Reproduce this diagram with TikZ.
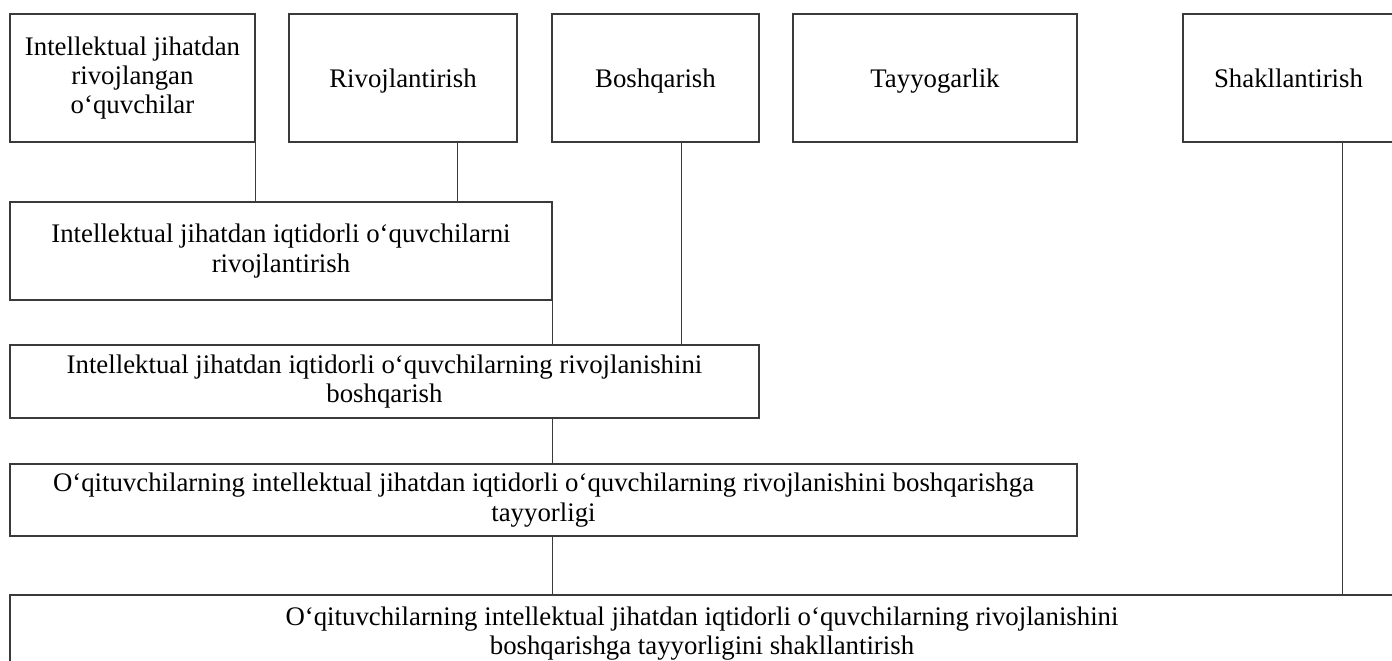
\documentclass[tikz,border=0pt]{standalone}
\usepackage{fontspec}
\setmainfont{Liberation Serif}
\usetikzlibrary{positioning, calc}
\definecolor{cLine}{HTML}{3A3A3A}
\tikzset{
  box/.style={
    rectangle, draw=cLine, line width=0.6pt, align=center, inner sep=2pt,
    text=black, font=\fontsize{13.4}{14.6}\selectfont
  },
  topbox/.style={box, minimum height=64pt},
  wordbox/.style={topbox, text height=12pt, text depth=3pt},
  link/.style={draw=cLine, line width=0.5pt},
}

\begin{document}
\begin{tikzpicture}[x=0.5pt, y=-0.5pt]
  \useasboundingbox (0,0) rectangle (1392,660);
  \clip (0,0) rectangle (1392,660);

  % top row of notions
  \node[topbox, minimum width=122.5pt] (pupils) at (132.5,78)
    {Intellektual jihatdan\\rivojlangan\\o‘quvchilar};
  \node[wordbox, minimum width=114pt] (develop) at (403,78) {Rivojlantirish};
  \node[wordbox, minimum width=103.5pt] (manage) at (655.5,78) {Boshqarish};
  \node[wordbox, minimum width=142pt] (ready) at (935,78) {Tayyogarlik};
  \node[wordbox, minimum width=105.5pt] (form) at (1288.5,78) {Shakllantirish};

  % chain of combined notions
  \node[box, minimum width=271pt, minimum height=49pt] (devpupils) at (281,251)
    {Intellektual jihatdan iqtidorli o‘quvchilarni\\rivojlantirish};
  \node[box, minimum width=374.5pt, minimum height=36.5pt] (mandev) at (384.5,381.5)
    {Intellektual jihatdan iqtidorli o‘quvchilarning rivojlanishini\\boshqarish};
  \node[box, minimum width=533.5pt, minimum height=36pt] (teachready) at (543.5,500)
    {O‘qituvchilarning intellektual jihatdan iqtidorli o‘quvchilarning rivojlanishini boshqarishga\\tayyorligi};
  \node[box, minimum width=692pt, minimum height=38.5pt] (formready) at (702,633.5)
    {O‘qituvchilarning intellektual jihatdan iqtidorli o‘quvchilarning rivojlanishini\\boshqarishga tayyorligini shakllantirish};

  \draw[link] (pupils.south east) -- (pupils.south east |- devpupils.north);
  \draw[link] ([xshift=-30pt]develop.south east) -- ([xshift=-30pt]develop.south east |- devpupils.north);
  \draw[link] ([xshift=12.75pt]manage.south) -- ([xshift=12.75pt]manage.south |- mandev.north);
  \draw[link] (devpupils.south east) -- (devpupils.south east |- mandev.north);
  \draw[link] (devpupils.south east |- mandev.south) -- (devpupils.south east |- teachready.north);
  \draw[link] (devpupils.south east |- teachready.south) -- (devpupils.south east |- formready.north);
  \draw[link] ([xshift=26.75pt]form.south) -- ([xshift=26.75pt]form.south |- formready.north);

\end{tikzpicture}
\end{document}
